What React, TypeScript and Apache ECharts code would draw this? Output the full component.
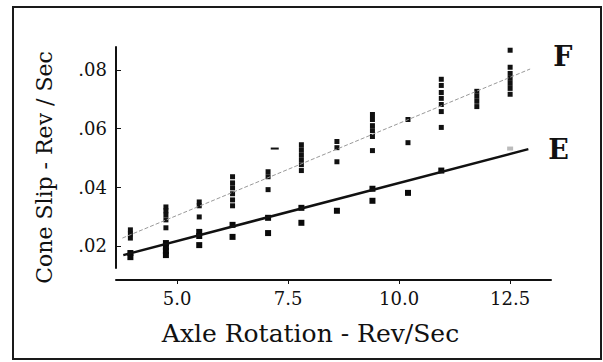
import React, { useEffect, useRef } from "react";
import * as echarts from "echarts";

// Axle rotation (Rev/Sec) vs cone slip (Rev/Sec)
const xTicks = [5.0, 7.5, 10.0, 12.5];
const yTicks = [0.02, 0.04, 0.06, 0.08];

const pointsF: [number, number][] = [
  [3.95, 0.0255], [3.95, 0.0241], [3.95, 0.0227],
  [4.75, 0.0333], [4.75, 0.032], [4.75, 0.0306], [4.75, 0.0289], [4.75, 0.0262],
  [5.5, 0.035], [5.5, 0.0337], [5.5, 0.0299],
  [6.25, 0.0436], [6.25, 0.0415], [6.25, 0.0398], [6.25, 0.0378], [6.25, 0.0357], [6.25, 0.0337],
  [7.05, 0.0453], [7.05, 0.0436], [7.05, 0.0392],
  [7.8, 0.0545], [7.8, 0.0528], [7.8, 0.0511], [7.8, 0.0494], [7.8, 0.0477], [7.8, 0.0457],
  [8.6, 0.0556], [8.6, 0.0535], [8.6, 0.0487],
  [9.4, 0.0648], [9.4, 0.0631], [9.4, 0.061], [9.4, 0.0593], [9.4, 0.0573], [9.4, 0.0525],
  [10.2, 0.0631], [10.2, 0.0552],
  [10.95, 0.0768], [10.95, 0.0747], [10.95, 0.0723], [10.95, 0.0703], [10.95, 0.0682], [10.95, 0.0658], [10.95, 0.0604],
  [11.75, 0.0727], [11.75, 0.071], [11.75, 0.0693], [11.75, 0.0675],
  [12.5, 0.0867], [12.5, 0.0809], [12.5, 0.0788], [12.5, 0.0771], [12.5, 0.0754], [12.5, 0.0737], [12.5, 0.0717],
];
const pointsFDash: [number, number][] = [[7.2, 0.0532]];

const pointsE: [number, number][] = [
  [3.95, 0.0176], [3.95, 0.0162],
  [4.75, 0.021], [4.75, 0.0197], [4.75, 0.0183], [4.75, 0.0169],
  [5.5, 0.0248], [5.5, 0.0234], [5.5, 0.0203],
  [6.25, 0.0272], [6.25, 0.0231],
  [7.05, 0.0296], [7.05, 0.0244],
  [7.8, 0.033], [7.8, 0.0279],
  [8.6, 0.032],
  [9.4, 0.0395], [9.4, 0.0354],
  [10.2, 0.0381],
  [10.95, 0.0457],
];
const pointsEFaint: [number, number][] = [[12.5, 0.0532]];

const fitF: [number, number][] = [[3.77, 0.0227], [12.95, 0.0803]];
const fitE: [number, number][] = [[3.79, 0.0169], [12.91, 0.053]];

const FONT = "DejaVu Serif";

export default function App() {
  const ref = useRef<HTMLDivElement>(null);
  useEffect(() => {
    if (!ref.current) return;
    const chart = echarts.init(ref.current, null, { renderer: "svg" });
    chart.setOption({
      animation: false,
      backgroundColor: "#ffffff",
      grid: { left: 116, right: 52, top: 47, bottom: 94 },
      xAxis: {
        type: "value",
        min: 3.626,
        max: 13.42,
        offset: 12,
        axisLine: { show: true, lineStyle: { color: "#111", width: 2 } },
        axisTick: { show: true, customValues: xTicks, length: 4, lineStyle: { color: "#111", width: 1 } },
        axisLabel: {
          customValues: xTicks,
          formatter: (v: number) => v.toFixed(1),
          fontFamily: FONT,
          fontSize: 18,
          color: "#111",
          margin: 9,
        },
        splitLine: { show: false },
        name: "Axle Rotation - Rev/Sec",
        nameLocation: "middle",
        nameGap: 41,
        nameTextStyle: { fontFamily: FONT, fontSize: 25, color: "#111", padding: [0, 46, 0, 0] },
      },
      yAxis: {
        type: "value",
        min: 0.0125,
        max: 0.0878,
        axisLine: { show: true, lineStyle: { color: "#111", width: 2 } },
        axisTick: { show: true, inside: true, customValues: yTicks, length: 5, lineStyle: { color: "#111", width: 1 } },
        axisLabel: {
          customValues: yTicks,
          formatter: (v: number) => "." + Math.round(v * 100).toString().padStart(2, "0"),
          fontFamily: FONT,
          fontSize: 18,
          color: "#111",
          margin: 9,
        },
        splitLine: { show: false },
        name: "Cone Slip - Rev / Sec",
        nameLocation: "middle",
        nameRotate: 90,
        nameGap: 61,
        nameTextStyle: { fontFamily: FONT, fontSize: 22, color: "#111", padding: [0, 20, 0, 0] },
      },
      graphic: [
        {
          type: "rect",
          shape: { x: 13, y: 7, width: 588, height: 352 },
          style: { fill: "none", stroke: "#1a1a1a", lineWidth: 2 },
          silent: true,
        },
      ],
      series: [
        {
          type: "scatter",
          data: pointsF,
          symbol: "rect",
          symbolSize: [5, 5],
          itemStyle: { color: "#111", opacity: 1 },
        },
        {
          type: "scatter",
          data: pointsFDash,
          symbol: "rect",
          symbolSize: [8, 2],
          itemStyle: { color: "#111", opacity: 1 },
        },
        {
          type: "scatter",
          data: pointsE,
          symbol: "rect",
          symbolSize: [6, 6],
          itemStyle: { color: "#0a0a0a", opacity: 1 },
        },
        {
          type: "scatter",
          data: pointsEFaint,
          symbol: "rect",
          symbolSize: [6, 4],
          itemStyle: { color: "#bbb", opacity: 1 },
        },
        {
          type: "line",
          data: fitF,
          symbol: "none",
          lineStyle: { color: "#999", width: 1, type: [4, 2] },
          endLabel: {
            show: true,
            formatter: "F",
            fontFamily: FONT,
            fontWeight: "bold",
            fontSize: 27,
            color: "#111",
            distance: 23,
            offset: [0, -13],
          },
        },
        {
          type: "line",
          data: fitE,
          symbol: "none",
          lineStyle: { color: "#111", width: 2.5 },
          endLabel: {
            show: true,
            formatter: "E",
            fontFamily: FONT,
            fontWeight: "bold",
            fontSize: 27,
            color: "#111",
            distance: 20,
            offset: [0, 0],
          },
        },
      ],
    });
    return () => chart.dispose();
  }, []);
  return (
    <div
      ref={ref}
      style={{ position: "fixed", left: 0, top: 0, width: 603, height: 362, background: "#fff" }}
    />
  );
}
